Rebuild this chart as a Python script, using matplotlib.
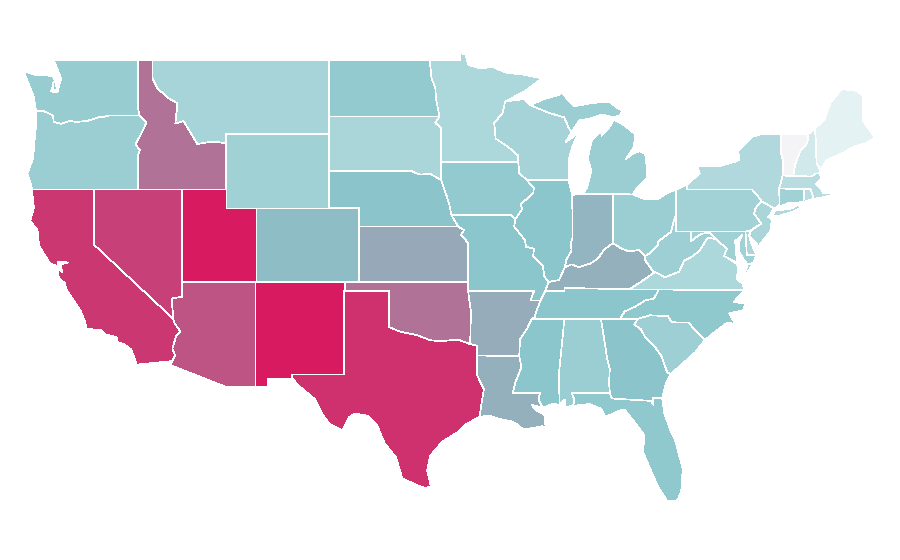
import matplotlib
matplotlib.use("Agg")
import matplotlib.pyplot as plt
from matplotlib.colors import LinearSegmentedColormap, Normalize

# State outlines as (longitude, latitude); each state is a list of rings.
WA = [[(-124.7,48.38),(-123.9,48.16),(-123.1,48.15),(-122.8,48.1),(-122.65,47.85),(-122.95,47.3),(-122.5,47.25),(-122.4,47.6),(-122.25,48.0),(-122.5,48.5),(-122.75,49.0),(-117.03,49.0),(-117.04,46.42),(-116.92,46.0),(-118.98,46.0),(-119.3,45.93),(-119.6,45.92),(-120.5,45.7),(-121.2,45.65),(-121.7,45.7),(-122.25,45.55),(-122.76,45.65),(-122.8,46.0),(-123.2,46.15),(-123.55,46.27),(-123.95,46.2),(-124.05,46.7),(-124.1,47.0),(-124.4,47.6),(-124.7,48.18)],
      [(-122.78,47.8),(-122.62,47.8),(-122.55,47.4),(-122.8,47.38)]]
OR = [[(-123.95,46.2),(-123.55,46.27),(-123.2,46.15),(-122.8,46.0),(-122.76,45.65),(-122.25,45.55),(-121.7,45.7),(-121.2,45.65),(-120.5,45.7),(-119.6,45.92),(-119.3,45.93),(-118.98,46.0),(-116.92,46.0),(-116.46,45.6),(-116.85,44.95),(-117.2,44.45),(-117.03,44.25),(-116.9,44.15),(-117.03,43.83),(-117.03,42.0),(-124.2,42.0),(-124.4,42.5),(-124.55,42.85),(-124.15,43.7),(-124.05,44.7),(-123.95,45.5)]]
CA = [[(-124.2,42.0),(-120.0,42.0),(-120.0,39.0),(-114.63,35.0),(-114.57,34.8),(-114.14,34.3),(-114.43,34.1),(-114.7,33.4),(-114.52,33.03),(-114.72,32.72),(-117.12,32.53),(-117.25,32.85),(-117.5,33.35),(-118.0,33.65),(-118.4,33.75),(-118.5,34.03),(-119.2,34.15),(-119.6,34.42),(-120.5,34.45),(-120.65,34.9),(-120.9,35.4),(-121.9,36.6),(-122.0,36.95),(-122.4,37.2),(-122.5,37.75),(-122.15,37.5),(-122.3,37.95),(-121.75,38.05),(-122.5,38.1),(-122.5,37.85),(-123.0,38.0),(-123.75,38.95),(-123.85,39.8),(-124.35,40.3),(-124.1,41.0),(-124.2,41.75)],
      [(-119.9,34.07),(-119.55,34.0),(-119.6,33.95),(-119.95,33.98)],[(-118.6,33.48),(-118.35,33.38),(-118.45,33.33)]]
NV = [[(-120.0,42.0),(-114.04,42.0),(-114.04,36.2),(-114.75,36.1),(-114.63,35.0),(-120.0,39.0)]]
ID = [[(-117.03,49.0),(-116.05,49.0),(-116.05,48.0),(-115.7,47.45),(-114.95,46.93),(-114.35,46.65),(-114.5,45.56),(-113.95,45.7),(-113.45,45.05),(-113.0,44.45),(-112.3,44.55),(-111.5,44.55),(-111.05,44.48),(-111.05,42.0),(-117.03,42.0),(-117.03,43.83),(-116.9,44.15),(-117.03,44.25),(-117.2,44.45),(-116.85,44.95),(-116.46,45.6),(-116.92,46.0),(-117.04,46.42)]]
MT = [[(-116.05,49.0),(-104.05,49.0),(-104.05,45.0),(-111.05,45.0),(-111.05,44.48),(-111.5,44.55),(-112.3,44.55),(-113.0,44.45),(-113.45,45.05),(-113.95,45.7),(-114.5,45.56),(-114.35,46.65),(-114.95,46.93),(-115.7,47.45),(-116.05,48.0)]]
WY = [[(-111.05,45.0),(-104.05,45.0),(-104.05,41.0),(-111.05,41.0)]]
UT = [[(-114.04,42.0),(-111.05,42.0),(-111.05,41.0),(-109.05,41.0),(-109.05,37.0),(-114.04,37.0)]]
CO = [[(-109.05,41.0),(-102.05,41.0),(-102.05,37.0),(-109.05,37.0)]]
AZ = [[(-114.04,37.0),(-109.05,37.0),(-109.05,31.33),(-111.07,31.33),(-114.81,32.5),(-114.72,32.72),(-114.52,33.03),(-114.7,33.4),(-114.43,34.1),(-114.14,34.3),(-114.57,34.8),(-114.63,35.0),(-114.75,36.1),(-114.04,36.2)]]
NM = [[(-109.05,37.0),(-103.0,37.0),(-103.04,32.0),(-106.62,32.0),(-106.53,31.78),(-108.21,31.78),(-108.21,31.33),(-109.05,31.33)]]
TX = [[(-103.04,36.5),(-100.0,36.5),(-100.0,34.56),(-99.2,34.3),(-98.1,34.13),(-97.2,33.85),(-96.5,33.8),(-95.3,33.88),(-94.48,33.64),(-94.04,33.55),(-94.04,33.02),(-94.04,32.0),(-93.55,31.2),(-93.7,30.5),(-93.84,29.7),(-94.7,29.35),(-95.3,28.9),(-96.4,28.35),(-97.2,27.6),(-97.4,26.8),(-97.15,25.96),(-97.5,25.85),(-98.2,26.05),(-99.1,26.4),(-99.5,27.5),(-100.3,28.3),(-100.8,29.25),(-101.4,29.77),(-102.3,29.88),(-102.7,29.7),(-103.15,28.98),(-104.0,29.3),(-104.55,29.9),(-105.0,30.65),(-106.2,31.45),(-106.53,31.78),(-106.62,32.0),(-103.04,32.0)]]
OK = [[(-103.0,37.0),(-94.62,37.0),(-94.62,36.5),(-94.43,35.4),(-94.48,33.64),(-95.3,33.88),(-96.5,33.8),(-97.2,33.85),(-98.1,34.13),(-99.2,34.3),(-100.0,34.56),(-100.0,36.5),(-103.0,36.5)]]
KS = [[(-102.05,40.0),(-95.3,40.0),(-94.9,39.8),(-95.1,39.55),(-94.61,39.1),(-94.62,37.0),(-102.05,37.0)]]
NE = [[(-104.05,43.0),(-98.5,43.0),(-97.9,42.8),(-97.2,42.85),(-96.45,42.5),(-96.1,41.7),(-95.9,41.2),(-95.75,40.6),(-95.3,40.0),(-102.05,40.0),(-102.05,41.0),(-104.05,41.0)]]
SD = [[(-104.05,45.94),(-96.56,45.94),(-96.85,45.6),(-96.45,45.3),(-96.45,43.5),(-96.45,42.5),(-97.2,42.85),(-97.9,42.8),(-98.5,43.0),(-104.05,43.0)]]
ND = [[(-104.05,49.0),(-97.23,49.0),(-97.1,48.0),(-96.85,47.5),(-96.8,46.9),(-96.56,45.94),(-104.05,45.94)]]
MN = [[(-97.23,49.0),(-95.15,49.0),(-95.15,49.38),(-94.8,49.3),(-94.6,48.72),(-93.8,48.55),(-92.95,48.62),(-92.0,48.3),(-90.8,48.2),(-89.6,48.0),(-90.8,47.3),(-92.1,46.75),(-92.3,46.1),(-92.85,45.6),(-92.75,44.75),(-91.9,44.3),(-91.25,43.85),(-91.22,43.5),(-96.45,43.5),(-96.45,45.3),(-96.85,45.6),(-96.56,45.94),(-96.8,46.9),(-96.85,47.5),(-97.1,48.0)]]
WI = [[(-92.1,46.75),(-91.0,46.87),(-90.75,46.85),(-90.4,46.55),(-89.1,46.13),(-88.1,45.9),(-87.8,45.35),(-87.6,45.1),(-88.0,44.55),(-87.4,44.9),(-87.05,45.25),(-87.55,44.3),(-87.8,43.6),(-87.8,42.5),(-90.64,42.5),(-91.15,42.9),(-91.22,43.5),(-91.25,43.85),(-91.9,44.3),(-92.75,44.75),(-92.85,45.6),(-92.3,46.1)]]
IA = [[(-96.45,43.5),(-91.22,43.5),(-91.15,42.9),(-90.64,42.5),(-90.15,42.1),(-90.2,41.8),(-91.05,41.2),(-90.95,40.95),(-91.4,40.4),(-91.7,40.6),(-95.75,40.6),(-95.9,41.2),(-96.1,41.7),(-96.45,42.5)]]
MO = [[(-95.75,40.6),(-91.7,40.6),(-91.4,40.4),(-91.5,40.0),(-90.75,39.25),(-90.7,38.9),(-90.15,38.8),(-90.2,38.4),(-89.55,37.9),(-89.45,37.3),(-89.15,37.0),(-89.4,36.5),(-89.7,36.0),(-90.37,36.0),(-90.15,36.5),(-94.62,36.5),(-94.62,37.0),(-94.61,39.1),(-95.1,39.55),(-94.9,39.8),(-95.3,40.0)]]
AR = [[(-94.62,36.5),(-90.15,36.5),(-90.37,36.0),(-89.7,36.0),(-89.95,35.5),(-90.1,35.1),(-90.3,35.0),(-90.6,34.5),(-91.1,33.9),(-91.15,33.0),(-94.04,33.02),(-94.04,33.55),(-94.48,33.64),(-94.43,35.4)]]
LA = [[(-94.04,33.02),(-91.15,33.0),(-91.0,32.4),(-91.4,31.6),(-91.6,31.0),(-89.73,31.0),(-89.85,30.65),(-89.55,30.2),(-90.3,30.35),(-90.0,30.05),(-89.4,29.8),(-89.4,29.3),(-89.1,29.05),(-89.6,29.2),(-90.2,29.1),(-90.9,29.05),(-91.3,29.3),(-91.8,29.5),(-92.3,29.55),(-93.2,29.78),(-93.84,29.7),(-93.7,30.5),(-93.55,31.2),(-94.04,32.0)]]
MS = [[(-91.15,33.0),(-91.1,33.9),(-90.6,34.5),(-90.3,35.0),(-88.2,35.0),(-88.1,34.9),(-88.47,31.9),(-88.4,30.37),(-88.9,30.4),(-89.55,30.2),(-89.85,30.65),(-89.73,31.0),(-91.6,31.0),(-91.4,31.6),(-91.0,32.4)]]
AL = [[(-88.2,35.0),(-85.6,35.0),(-85.18,32.87),(-85.0,32.3),(-85.05,31.55),(-85.0,31.0),(-87.6,31.0),(-87.4,30.65),(-87.5,30.3),(-88.0,30.25),(-88.05,30.65),(-88.4,30.37),(-88.47,31.9),(-88.1,34.9)]]
GA = [[(-85.6,35.0),(-83.1,35.0),(-83.35,34.7),(-82.9,34.45),(-82.55,33.95),(-81.95,33.5),(-81.5,33.0),(-81.1,32.1),(-80.85,32.03),(-81.2,31.5),(-81.45,30.72),(-82.05,30.75),(-82.05,30.36),(-82.2,30.57),(-84.86,30.7),(-85.0,31.0),(-85.05,31.55),(-85.0,32.3),(-85.18,32.87)]]
FL = [[(-87.6,31.0),(-85.0,31.0),(-84.86,30.7),(-82.2,30.57),(-82.05,30.36),(-82.05,30.75),(-81.45,30.72),(-81.3,29.9),(-80.9,29.0),(-80.55,28.4),(-80.05,26.9),(-80.15,25.7),(-80.4,25.2),(-81.1,25.15),(-81.7,25.9),(-82.1,26.6),(-82.75,27.8),(-82.65,28.7),(-83.4,29.5),(-84.0,30.1),(-84.35,30.05),(-85.3,29.7),(-85.6,30.15),(-86.4,30.4),(-87.5,30.3),(-87.4,30.65)]]
SC = [[(-83.1,35.0),(-82.3,35.2),(-81.05,35.15),(-80.8,34.82),(-79.67,34.8),(-78.55,33.85),(-79.2,33.2),(-79.9,32.7),(-80.85,32.03),(-81.1,32.1),(-81.5,33.0),(-81.95,33.5),(-82.55,33.95),(-82.9,34.45),(-83.35,34.7)]]
NC = [[(-84.32,35.0),(-83.1,35.0),(-82.3,35.2),(-81.05,35.15),(-80.8,34.82),(-79.67,34.8),(-78.55,33.85),(-77.8,34.35),(-77.05,34.78),(-76.5,34.75),(-76.9,35.3),(-75.95,35.47),(-75.8,35.85),(-76.6,35.9),(-76.0,36.45),(-75.87,36.55),(-81.68,36.59),(-82.0,36.1),(-82.6,36.0),(-83.2,35.7),(-84.0,35.4)]]
TN = [[(-90.3,35.0),(-88.2,35.0),(-85.6,35.0),(-84.32,35.0),(-84.0,35.4),(-83.2,35.7),(-82.6,36.0),(-82.0,36.1),(-81.68,36.59),(-83.67,36.6),(-86.5,36.65),(-88.07,36.68),(-88.07,36.5),(-89.4,36.5),(-89.7,36.0),(-89.95,35.5),(-90.1,35.1)]]
KY = [[(-89.4,36.5),(-88.07,36.5),(-88.07,36.68),(-86.5,36.65),(-83.67,36.6),(-82.9,37.0),(-82.0,37.5),(-82.6,38.17),(-82.6,38.4),(-83.0,38.73),(-83.7,38.65),(-84.2,38.8),(-84.8,39.1),(-85.4,38.73),(-85.8,38.27),(-86.3,38.0),(-87.1,37.8),(-87.6,37.95),(-88.05,37.8),(-88.45,37.1),(-89.15,37.0)]]
IL = [[(-90.64,42.5),(-87.8,42.5),(-87.55,41.7),(-87.53,39.35),(-87.65,39.1),(-87.6,38.7),(-87.95,38.2),(-88.05,37.8),(-88.45,37.1),(-89.15,37.0),(-89.45,37.3),(-89.55,37.9),(-90.2,38.4),(-90.15,38.8),(-90.7,38.9),(-90.75,39.25),(-91.5,40.0),(-91.4,40.4),(-90.95,40.95),(-91.05,41.2),(-90.2,41.8),(-90.15,42.1)]]
IN = [[(-87.53,41.7),(-87.2,41.76),(-84.8,41.76),(-84.8,39.1),(-85.4,38.73),(-85.8,38.27),(-86.3,38.0),(-87.1,37.8),(-87.6,37.95),(-88.05,37.8),(-87.95,38.2),(-87.6,38.7),(-87.65,39.1),(-87.53,39.35)]]
OH = [[(-84.8,41.72),(-83.45,41.73),(-82.7,41.5),(-81.7,41.5),(-81.0,41.85),(-80.52,41.98),(-80.52,40.64),(-80.65,40.3),(-80.85,39.7),(-81.7,39.2),(-81.75,39.0),(-82.2,38.6),(-82.6,38.4),(-83.0,38.73),(-83.7,38.65),(-84.2,38.8),(-84.8,39.1)]]
MI = [[(-86.8,41.76),(-84.8,41.76),(-83.45,41.73),(-83.15,42.1),(-82.5,42.6),(-82.45,43.0),(-82.6,43.9),(-82.95,44.07),(-83.4,43.95),(-83.9,43.65),(-83.35,44.3),(-83.3,45.0),(-84.1,45.5),(-84.75,45.78),(-85.0,45.4),(-85.55,44.9),(-85.6,45.15),(-86.2,44.7),(-86.5,43.7),(-86.25,43.0),(-86.55,42.1)],
      [(-90.4,46.55),(-89.1,46.13),(-88.1,45.9),(-87.8,45.35),(-87.6,45.1),(-87.05,45.75),(-86.5,45.8),(-85.5,46.05),(-84.75,45.9),(-84.35,46.0),(-84.1,46.25),(-84.6,46.45),(-85.0,46.75),(-86.2,46.67),(-87.4,46.5),(-87.9,46.9),(-88.4,47.35),(-87.8,47.47),(-88.5,47.1),(-89.6,46.85)],
      [(-89.2,47.9),(-88.55,48.15),(-88.6,48.05)]]
PA = [[(-80.52,41.98),(-79.76,42.27),(-79.76,42.0),(-75.35,42.0),(-75.05,41.75),(-74.7,41.36),(-75.13,40.97),(-75.2,40.68),(-74.72,40.15),(-75.4,39.8),(-75.79,39.72),(-80.52,39.72),(-80.52,40.64)]]
NY = [[(-79.76,42.27),(-78.9,42.85),(-79.05,43.27),(-77.5,43.27),(-76.5,43.5),(-76.2,43.6),(-76.3,44.1),(-75.3,44.85),(-74.7,45.0),(-73.35,45.0),(-73.4,44.0),(-73.25,43.6),(-73.27,42.75),(-73.5,42.05),(-73.48,41.2),(-73.7,41.0),(-73.9,41.0),(-74.7,41.36),(-75.05,41.75),(-75.35,42.0),(-79.76,42.0)],
      [(-74.0,40.6),(-73.75,40.85),(-72.6,40.98),(-72.3,41.15),(-71.87,41.07),(-72.5,40.82),(-73.5,40.58)]]
NJ = [[(-74.7,41.36),(-73.9,41.0),(-74.05,40.7),(-74.25,40.5),(-74.0,40.4),(-74.1,39.75),(-74.9,38.93),(-75.55,39.5),(-75.4,39.8),(-74.72,40.15),(-75.2,40.68),(-75.13,40.97)]]
DE = [[(-75.79,39.72),(-75.4,39.8),(-75.55,39.5),(-75.4,39.1),(-75.05,38.45),(-75.7,38.46)]]
MD = [[(-79.48,39.72),(-75.79,39.72),(-75.7,38.46),(-75.05,38.45),(-75.24,38.03),(-75.65,37.95),(-75.9,38.2),(-76.2,38.6),(-76.2,39.2),(-76.0,39.55),(-76.5,39.2),(-76.45,38.9),(-76.4,38.3),(-76.35,38.05),(-76.95,38.28),(-77.25,38.4),(-77.05,38.8),(-77.5,39.1),(-77.75,39.3),(-78.2,39.67),(-78.8,39.6),(-79.05,39.47),(-79.48,39.2)]]
VA = [[(-75.87,36.55),(-81.68,36.59),(-83.67,36.6),(-82.9,37.0),(-82.0,37.5),(-81.95,37.55),(-81.25,37.25),(-80.3,37.55),(-79.95,38.15),(-79.3,38.42),(-78.85,38.77),(-78.35,39.4),(-77.75,39.3),(-77.5,39.1),(-77.05,38.8),(-77.25,38.4),(-76.95,38.28),(-76.35,37.95),(-76.3,37.55),(-76.4,37.15),(-76.0,36.92)],
      [(-75.65,37.95),(-75.24,38.03),(-75.95,37.15)]]
WV = [[(-80.52,40.64),(-80.52,39.72),(-79.48,39.72),(-79.48,39.2),(-79.05,39.47),(-78.8,39.6),(-78.2,39.67),(-77.75,39.3),(-78.35,39.4),(-78.85,38.77),(-79.3,38.42),(-79.95,38.15),(-80.3,37.55),(-81.25,37.25),(-81.95,37.55),(-82.0,37.5),(-82.6,38.17),(-82.6,38.4),(-82.2,38.6),(-81.75,39.0),(-81.7,39.2),(-80.85,39.7),(-80.65,40.3)]]
CT = [[(-73.5,42.05),(-71.8,42.02),(-71.85,41.32),(-72.9,41.25),(-73.7,41.0),(-73.48,41.2)]]
RI = [[(-71.8,42.02),(-71.38,42.02),(-71.15,41.5),(-71.4,41.45),(-71.85,41.32)]]
MA = [[(-73.5,42.05),(-73.27,42.75),(-71.3,42.7),(-71.0,42.87),(-70.8,42.87),(-70.6,42.65),(-71.0,42.3),(-70.6,41.95),(-70.55,41.8),(-70.0,41.8),(-70.1,42.05),(-69.95,41.7),(-70.65,41.55),(-71.15,41.5),(-71.38,42.02),(-71.8,42.02)]]
VT = [[(-73.35,45.0),(-71.5,45.01),(-71.6,44.5),(-72.05,44.1),(-72.4,43.4),(-72.55,42.73),(-73.27,42.75),(-73.25,43.6),(-73.4,44.0)]]
NH = [[(-71.5,45.01),(-71.08,45.3),(-71.0,44.5),(-70.97,43.4),(-70.7,43.07),(-70.8,42.87),(-71.0,42.87),(-71.3,42.7),(-72.55,42.73),(-72.4,43.4),(-72.05,44.1),(-71.6,44.5)]]
ME = [[(-71.08,45.3),(-70.4,45.8),(-70.25,46.2),(-70.0,46.7),(-69.23,47.46),(-69.0,47.4),(-68.3,47.35),(-67.8,47.07),(-67.8,45.7),(-67.45,45.3),(-67.0,44.8),(-67.6,44.5),(-68.5,44.3),(-69.1,44.0),(-69.8,43.75),(-70.25,43.6),(-70.7,43.07),(-70.97,43.4),(-71.0,44.5)]]

states = dict(WA=WA, OR=OR, CA=CA, NV=NV, ID=ID, MT=MT, WY=WY, UT=UT, CO=CO, AZ=AZ, NM=NM, TX=TX, OK=OK,
              KS=KS, NE=NE, SD=SD, ND=ND, MN=MN, WI=WI, IA=IA, MO=MO, AR=AR, LA=LA, MS=MS, AL=AL, GA=GA,
              FL=FL, SC=SC, NC=NC, TN=TN, KY=KY, IL=IL, IN=IN, OH=OH, MI=MI, PA=PA, NY=NY, NJ=NJ, DE=DE,
              MD=MD, VA=VA, WV=WV, CT=CT, RI=RI, MA=MA, VT=VT, NH=NH, ME=ME)

# Estimated value per state on the colour scale.
values = dict(ME=6, NH=13, VT=0, MA=23, RI=23, NY=25, MN=27, VA=27, SD=28, MT=29, NJ=28, DE=28, WI=30,
              PA=31, CT=32, MD=32, WY=32, SC=33, WV=33, OR=34, MI=34, AL=34, OH=34, WA=35, ND=37, IA=37,
              FL=38, NC=38, TN=40, MS=40, IL=40, MO=40, NE=41, GA=41, CO=43, IN=46, KY=48, LA=48, AR=49,
              KS=50, OK=69, ID=69, AZ=80, NV=87, CA=90, TX=92, UT=100, NM=100)

cmap = LinearSegmentedColormap.from_list(
    "scale", [(0.0, "#F4F4F6"), (0.06, "#E4F2F4"), (0.4, "#8AC6CB"), (1.0, "#D81B60")])
norm = Normalize(0, 100)

fig = plt.figure(figsize=(9, 5.6), dpi=100, facecolor="white")
ax = fig.add_axes([0, 0, 1, 1])
ax.set_xlim(-126.4, -65.3)
ax.set_ylim(21.97, 52.24)
ax.axis("off")

for code, rings in states.items():
    colour = cmap(norm(values[code]))
    for ring in rings:
        xs, ys = zip(*ring)
        ax.fill(xs, ys, facecolor=colour, edgecolor="white", linewidth=0.5,
                joinstyle="round", antialiased=False)

fig.savefig("out.png", dpi=100, facecolor="white")
